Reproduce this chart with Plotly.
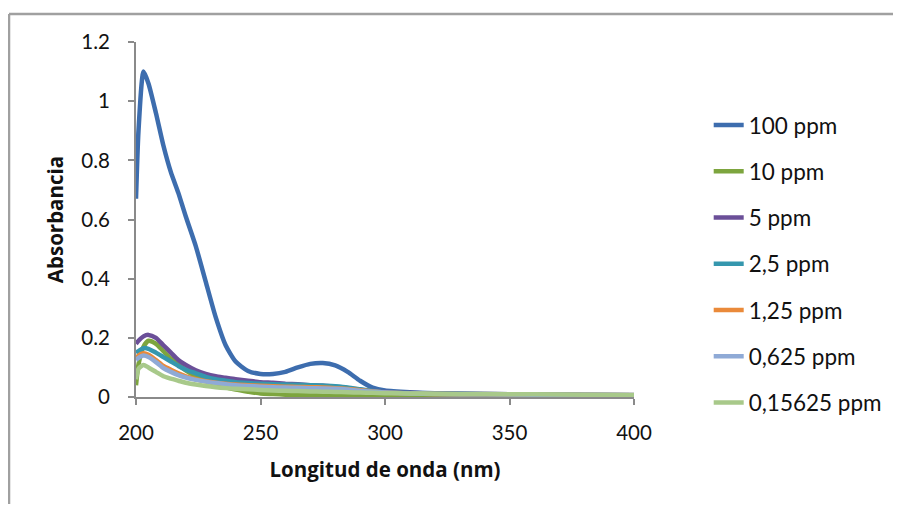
import plotly.graph_objects as go

wavelength = [200, 201, 203, 205, 208, 211, 214, 217, 220, 224, 228, 232, 236, 240, 245, 250,
              255, 260, 265, 270, 275, 280, 285, 290, 295, 300, 310, 320, 340, 360, 380, 400]

series_names = ["100 ppm", "10 ppm", "5 ppm", "2,5 ppm", "1,25 ppm", "0,625 ppm", "0,15625 ppm"]

abs_100 = [0.67, 0.90, 1.10, 1.06, 0.96, 0.85, 0.76, 0.69, 0.61, 0.51, 0.39, 0.27, 0.175, 0.12, 0.088, 0.078,
           0.078, 0.085, 0.10, 0.112, 0.115, 0.107, 0.085, 0.055, 0.032, 0.022, 0.016, 0.013, 0.010, 0.008, 0.006, 0.005]
abs_10 = [0.04, 0.11, 0.17, 0.19, 0.18, 0.155, 0.13, 0.11, 0.09, 0.07, 0.055, 0.043, 0.033, 0.025, 0.018, 0.012,
          0.010, 0.008, 0.007, 0.007, 0.006, 0.006, 0.006, 0.005, 0.005, 0.005, 0.004, 0.003, 0.002, 0.0, -0.003, 0.0]
abs_5 = [0.18, 0.19, 0.205, 0.21, 0.20, 0.175, 0.15, 0.125, 0.108, 0.09, 0.078, 0.07, 0.065, 0.06, 0.055, 0.05,
         0.048, 0.045, 0.043, 0.04, 0.038, 0.035, 0.03, 0.025, 0.02, 0.017, 0.014, 0.012, 0.010, 0.009, 0.008, 0.007]
abs_2_5 = [0.15, 0.155, 0.165, 0.163, 0.15, 0.135, 0.12, 0.105, 0.092, 0.08, 0.068, 0.06, 0.055, 0.05, 0.047, 0.045,
           0.043, 0.042, 0.041, 0.04, 0.039, 0.036, 0.032, 0.026, 0.02, 0.016, 0.013, 0.011, 0.009, 0.008, 0.007, 0.006]
abs_1_25 = [0.13, 0.14, 0.148, 0.143, 0.125, 0.105, 0.092, 0.08, 0.07, 0.06, 0.053, 0.048, 0.045, 0.042, 0.04, 0.038,
            0.036, 0.035, 0.034, 0.033, 0.032, 0.03, 0.027, 0.023, 0.019, 0.015, 0.012, 0.010, 0.009, 0.008, 0.007, 0.006]
abs_0_625 = [0.125, 0.132, 0.14, 0.135, 0.118, 0.098, 0.085, 0.074, 0.066, 0.058, 0.052, 0.047, 0.043, 0.04, 0.037, 0.035,
             0.033, 0.032, 0.031, 0.030, 0.029, 0.028, 0.025, 0.021, 0.018, 0.015, 0.012, 0.010, 0.009, 0.008, 0.007, 0.006]
abs_0_15625 = [0.06, 0.095, 0.108, 0.10, 0.085, 0.07, 0.062, 0.055, 0.048, 0.042, 0.037, 0.033, 0.03, 0.028, 0.026, 0.024,
               0.022, 0.021, 0.02, 0.019, 0.018, 0.017, 0.016, 0.015, 0.014, 0.013, 0.012, 0.011, 0.010, 0.009, 0.008, 0.007]

series_values = [abs_100, abs_10, abs_5, abs_2_5, abs_1_25, abs_0_625, abs_0_15625]
colors = ["#3D6DAE", "#7DA53E", "#6B4F98", "#3597AE", "#EA8A3A", "#8FAAD6", "#A8C98A"]

x_ticks = [200, 250, 300, 350, 400]
y_ticks = [0, 0.2, 0.4, 0.6, 0.8, 1, 1.2]
y_tick_labels = ["0", "0.2", "0.4", "0.6", "0.8", "1", "1.2"]

FONT = "Lato, 'Open Sans', sans-serif"
TITLE_FONT = "'Open Sans', Lato, sans-serif"

fig = go.Figure()
for i, (name, vals, col) in enumerate(zip(series_names, series_values, colors)):
    fig.add_trace(go.Scatter(
        x=wavelength, y=vals, mode="lines", name=name,
        line=dict(color=col, width=4.5, shape="spline", smoothing=0.6),
        legendgroup=f"g{i}",
    ))

axis_color = "#8A8A8A"
border_color = "#A0A0A0"
fig.update_layout(
    width=885, height=496,
    margin=dict(l=128, r=259, t=34, b=107, autoexpand=False),
    paper_bgcolor="white", plot_bgcolor="white",
    font=dict(family=FONT, size=20, color="#111111"),
    showlegend=True,
    legend=dict(
        x=1.15, y=0.826, xanchor="left", yanchor="top",
        traceorder="grouped", tracegroupgap=14,
        font=dict(family=FONT, size=22.5, color="#111111"),
        bgcolor="rgba(0,0,0,0)",
    ),
    xaxis=dict(
        range=[200, 400], tickvals=x_ticks, ticktext=[str(v) for v in x_ticks],
        showgrid=False, zeroline=False, showline=True, linecolor=axis_color, linewidth=2,
        ticks="outside", tickcolor=axis_color, ticklen=6, tickwidth=2,
        ticklabelstandoff=10, tickfont=dict(size=20.5),
        title=dict(text="<b>Longitud de onda (nm)</b>", font=dict(family=TITLE_FONT, size=20.5), standoff=20),
    ),
    yaxis=dict(
        range=[0, 1.2], tickvals=y_ticks, ticktext=y_tick_labels,
        showgrid=False, zeroline=False, showline=True, linecolor=axis_color, linewidth=2,
        ticks="outside", tickcolor=axis_color, ticklen=6, tickwidth=2,
        ticklabelstandoff=14, tickfont=dict(size=20.5),
        title=dict(text="<b>Absorbancia</b>", font=dict(family=TITLE_FONT, size=20.5), standoff=12),
    ),
    shapes=[
        dict(type="line", xref="paper", yref="paper", x0=-0.255, x1=-0.255, y0=-0.4, y1=1.079,
             line=dict(color=border_color, width=2.5), layer="below"),
        dict(type="line", xref="paper", yref="paper", x0=-0.255, x1=1.7, y0=1.079, y1=1.079,
             line=dict(color=border_color, width=2.5), layer="below"),
    ],
)

fig.write_html("out.html")
